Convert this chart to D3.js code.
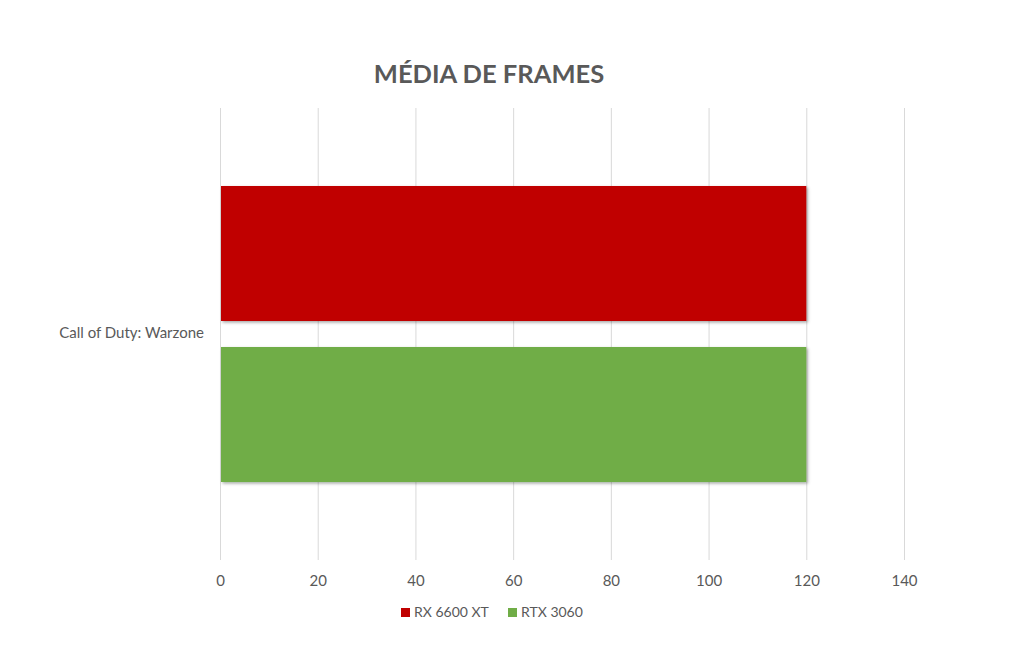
<!DOCTYPE html>
<html>
<head>
<meta charset="utf-8">
<script src="https://cdn.jsdelivr.net/npm/d3@7"></script>
<style>
  body { margin: 0; background: #fff; }
  text { font-family: Lato, "Open Sans", sans-serif; fill: #595959; }
</style>
</head>
<body>
<script>
// chart data
const categories = ["Call of Duty: Warzone"];
const seriesNames = ["RX 6600 XT", "RTX 3060"];
const seriesValues = [[120], [120]];
const seriesColors = ["#c00000", "#70ad47"];
const xTicks = [0, 20, 40, 60, 80, 100, 120, 140];

const width = 1024;
const height = 663;
const margin = { top: 108, right: 120, bottom: 103, left: 220 };

var svg = d3.select("body").append("svg")
  .attr("width", width)
  .attr("height", height);

var defs = svg.append("defs");
var shadow = defs.append("filter").attr("id", "shadow")
  .attr("x", "-5%").attr("y", "-5%").attr("width", "115%").attr("height", "115%");
shadow.append("feDropShadow")
  .attr("dx", 1.5).attr("dy", 1.5).attr("stdDeviation", 1.5)
  .attr("flood-color", "#000").attr("flood-opacity", 0.35);

var x = d3.scaleLinear()
  .domain([0, 140])
  .range([margin.left, 904]);

var y = d3.scaleBand()
  .domain(categories)
  .range([margin.top, height - margin.bottom])
  .paddingInner(0)
  .paddingOuter(0.2635);

var ySub = d3.scaleBand()
  .domain(seriesNames)
  .range([0, y.bandwidth()])
  .paddingInner(0.1615);

// gridlines
svg.append("g")
  .selectAll("line")
  .data(xTicks)
  .enter().append("line")
  .attr("x1", d => x(d) + 0.5)
  .attr("x2", d => x(d) + 0.5)
  .attr("y1", margin.top)
  .attr("y2", height - margin.bottom)
  .attr("stroke", "#d9d9d9")
  .attr("stroke-width", 1);

// x axis labels
var xAxis = svg.append("g")
  .attr("transform", "translate(0," + (height - margin.bottom + 11) + ")")
  .call(d3.axisBottom(x).tickValues(xTicks).tickSize(0).tickPadding(4));
xAxis.select(".domain").remove();
xAxis.selectAll("text")
  .style("font-size", "15px")
  .style("fill", "#595959")
  .style("font-family", "Lato, 'Open Sans', sans-serif");

// category label
svg.append("g")
  .selectAll("text")
  .data(categories)
  .enter().append("text")
  .attr("x", 204)
  .attr("y", d => y(d) + y.bandwidth() / 2)
  .attr("text-anchor", "end")
  .attr("dominant-baseline", "middle")
  .style("font-size", "15px")
  .text(d => d);

// bars
seriesNames.forEach(function (name, i) {
  svg.append("g")
    .selectAll("rect")
    .data(seriesValues[i])
    .enter().append("rect")
    .attr("x", x(0) + 1)
    .attr("y", (d, j) => y(categories[j]) + ySub(name))
    .attr("width", d => x(d) - x(0) - 1)
    .attr("height", ySub.bandwidth())
    .attr("fill", seriesColors[i])
    .attr("filter", "url(#shadow)");
});

// title
svg.append("text")
  .attr("x", 489)
  .attr("y", 83)
  .attr("text-anchor", "middle")
  .style("font-size", "25.5px")
  .style("font-weight", "bold")
  .text("MÉDIA DE FRAMES");

// legend
var legend = svg.append("g").attr("transform", "translate(401,613)");
var offsets = [0, 107];
seriesNames.forEach(function (name, i) {
  var g = legend.append("g").attr("transform", "translate(" + offsets[i] + ",0)");
  g.append("rect")
    .attr("x", 0).attr("y", -5)
    .attr("width", 9).attr("height", 9)
    .attr("fill", seriesColors[i]);
  g.append("text")
    .attr("x", 13).attr("y", 0)
    .attr("dominant-baseline", "middle")
    .style("font-size", "14px")
    .text(name);
});
</script>
</body>
</html>
